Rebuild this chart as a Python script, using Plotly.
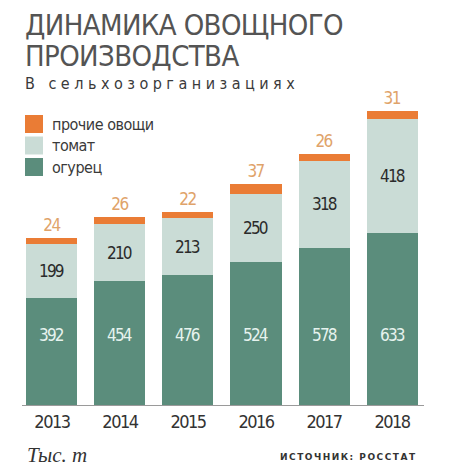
import plotly.graph_objects as go

# Данные: тыс. т, сельхозорганизации (Росстат)
years = ['2013', '2014', '2015', '2016', '2017', '2018']
cucumber = [392, 454, 476, 524, 578, 633]
tomato = [199, 210, 213, 250, 318, 418]
other = [24, 26, 22, 37, 26, 31]

series = [
    ('огурец', cucumber, '#5b8d7c'),
    ('томат', tomato, '#cadcd6'),
    ('прочие овощи', other, '#ea7c35'),
]

FONT = 'DejaVu Sans Condensed, DejaVu Sans, sans-serif'
GREEN_LABEL_Y = 257  # cucumber labels sit on one line in the original


def tight(s, px):
    # squeeze the letters a bit, the original uses a narrow face
    return f'<span style="letter-spacing:{px}px">{s}</span>'


# the page has an 8px body margin, so the figure is drawn 8px smaller
W, H = 453, 464
L, R, T, B = 14, 37, 92, 67
PW, PH = W - L - R, H - T - B


def px(x):  # screen x -> paper
    return (x - 8 - L) / PW


def py(y):  # screen y -> paper
    return (H - B - (y - 8)) / PH


fig = go.Figure()

for name, vals, color in series:
    bar = go.Bar(x=years, y=vals, name=name, marker=dict(color=color, line=dict(width=0)),
                 showlegend=False, hoverinfo='y+name')
    if name == 'прочие овощи':
        bar.text = [tight(v, -1.5) for v in vals]
        bar.textposition = 'outside'
        bar.textfont = dict(family=FONT, size=17, color='#dfa36a')
        bar.cliponaxis = False
    fig.add_trace(bar)

# value labels inside the bars
for i in range(len(years)):
    fig.add_annotation(x=i, y=GREEN_LABEL_Y, text=tight(cucumber[i], -1.8), showarrow=False,
                       font=dict(family=FONT, size=17, color='#e6f3ee'))
    fig.add_annotation(x=i, y=cucumber[i] + tomato[i] / 2, text=tight(tomato[i], -1.8),
                       showarrow=False, font=dict(family=FONT, size=17, color='#2b2b2b'))

# hand-made legend (big square keys like the original)
for k, (name, vals, color) in enumerate(reversed(series)):
    top = 115 + k * 21.5
    fig.add_shape(type='rect', xref='paper', yref='paper',
                  x0=px(25), x1=px(43), y0=py(top + 18), y1=py(top),
                  fillcolor=color, line=dict(width=0))
    fig.add_annotation(xref='paper', yref='paper', x=px(50), y=py(top + 9),
                       text=tight(name, -0.5), showarrow=False, xanchor='left', yanchor='middle',
                       font=dict(family=FONT, size=16, color='#3a3a3a'))

# title block
for line, yc in (('ДИНАМИКА ОВОЩНОГО', 25), ('ПРОИЗВОДСТВА', 56)):
    fig.add_annotation(xref='paper', yref='paper', x=px(23), y=py(yc),
                       text=tight(line, -0.6), showarrow=False,
                       xanchor='left', yanchor='middle',
                       font=dict(family=FONT, size=29, color='#545454'))
fig.add_annotation(xref='paper', yref='paper', x=px(23), y=py(83),
                   text=tight('В сельхозорганизациях', 4.5),
                   showarrow=False, xanchor='left', yanchor='middle',
                   font=dict(family=FONT, size=16, color='#3a3a3a'))

# footer
fig.add_annotation(xref='paper', yref='paper', x=px(25), y=py(455),
                   text='<i>Тыс. т</i>', showarrow=False, xanchor='left', yanchor='middle',
                   font=dict(family='Liberation Serif, DejaVu Serif, serif', size=21, color='#333333'))
fig.add_annotation(xref='paper', yref='paper', x=px(419), y=py(457),
                   text='<b>' + tight('ИСТОЧНИК: РОССТАТ', 1.5) + '</b>',
                   showarrow=False, xanchor='right', yanchor='middle',
                   font=dict(family='DejaVu Sans, sans-serif', size=9, color='#333333'))

fig.update_layout(
    width=W, height=H,
    margin=dict(l=L, r=R, t=T, b=B),
    barmode='stack', bargap=0.25,
    paper_bgcolor='white', plot_bgcolor='white',
    xaxis=dict(type='category', range=[-0.44, 5.47], showline=True, linecolor='#9a9a9a',
               linewidth=1, ticks='', showgrid=False, zeroline=False,
               tickmode='array', tickvals=years, ticktext=[tight(y, -1.5) for y in years],
               tickfont=dict(family=FONT, size=18, color='#333333'), fixedrange=True),
    yaxis=dict(range=[0, 1121], visible=False, showgrid=False, zeroline=False, fixedrange=True),
    showlegend=False,
)

fig.write_html('out.html')
